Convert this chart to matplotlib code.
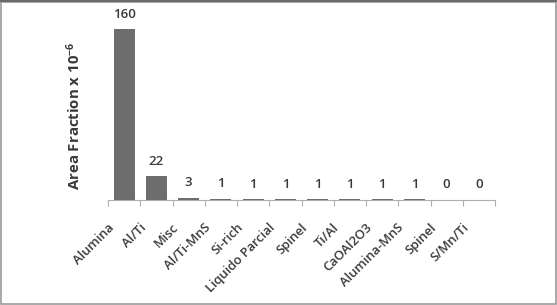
import matplotlib
matplotlib.use("Agg")
import matplotlib.pyplot as plt
from matplotlib.patches import Rectangle
from matplotlib.transforms import ScaledTranslation

categories = ['Alumina', 'Al/Ti', 'Misc', 'Al/Ti-MnS', 'Si-rich', 'Liquido Parcial',
              'Spinel', 'Ti/Al', 'CaOAl2O3', 'Alumina-MnS', 'Spinel', 'S/Mn/Ti']
values = [160, 22, 3, 1, 1, 1, 1, 1, 1, 1, 0, 0]
# small bars are drawn slightly taller than their label in the source
bar_heights = [160, 22, 2.2, 1.2, 0.9, 0.8, 0.8, 0.8, 0.8, 0.8, 0.3, 0.3]

plt.rcParams['font.family'] = ['Open Sans', 'DejaVu Sans']
plt.rcParams['mathtext.fontset'] = 'custom'
plt.rcParams['mathtext.rm'] = 'Open Sans'
plt.rcParams['mathtext.bf'] = 'Open Sans:bold'
plt.rcParams['mathtext.default'] = 'bf'
text_color = '#3a3a3a'

fig = plt.figure(figsize=(5.57, 3.05), dpi=100)
ax = fig.add_axes([108 / 557, 105 / 305, 387 / 557, 171 / 305])

x = range(len(categories))
bars = ax.bar(x, bar_heights, width=0.65, color='#6d6d6d', zorder=3)

for xi, h, v in zip(x, bar_heights, values):
    ax.annotate(str(v), (xi, h), xytext=(0, 6), textcoords='offset points',
                ha='center', va='bottom', fontsize=9.5, fontweight='semibold',
                color=text_color, annotation_clip=False)

ax.set_xlim(-0.5, len(categories) - 0.5)
ax.set_ylim(0, 160)
ax.set_xticks(list(x))
ax.set_xticklabels([])
# category labels, placed down-left of each tick like the source
lab_trans = ax.get_xaxis_transform() + ScaledTranslation(-0.17, -0.21, fig.dpi_scale_trans)
for xi, c in zip(x, categories):
    ax.text(xi, 0, c, transform=lab_trans, rotation=45, ha='right', va='top',
            rotation_mode='anchor', fontsize=9.3, fontweight='semibold',
            color=text_color, clip_on=False)
ax.set_xticks([i - 0.5 for i in range(len(categories) + 1)], minor=True)
ax.tick_params(axis='x', which='major', length=0)
ax.tick_params(axis='x', which='minor', length=4, color='#b0b0b0', width=0.8)
ax.set_yticks([])

for s in ['top', 'right', 'left']:
    ax.spines[s].set_visible(False)
ax.spines['bottom'].set_color('#b0b0b0')
ax.spines['bottom'].set_linewidth(0.8)

ax.set_ylabel(r'Area Fraction x 10$^{-6}$', fontsize=10.8, fontweight='bold',
              color=text_color)
ax.yaxis.set_label_coords(-0.065, 0.49)

# figure frame
fig.patches.append(Rectangle((0.002, 0.002), 0.996, 0.992, transform=fig.transFigure,
                             fill=False, edgecolor='#9a9a9a', linewidth=1.2))
fig.patches.append(Rectangle((0.0, 0.992), 1.0, 0.008, transform=fig.transFigure,
                             facecolor='#6a6a6a', edgecolor='none'))

fig.savefig('out.png', dpi=100)
